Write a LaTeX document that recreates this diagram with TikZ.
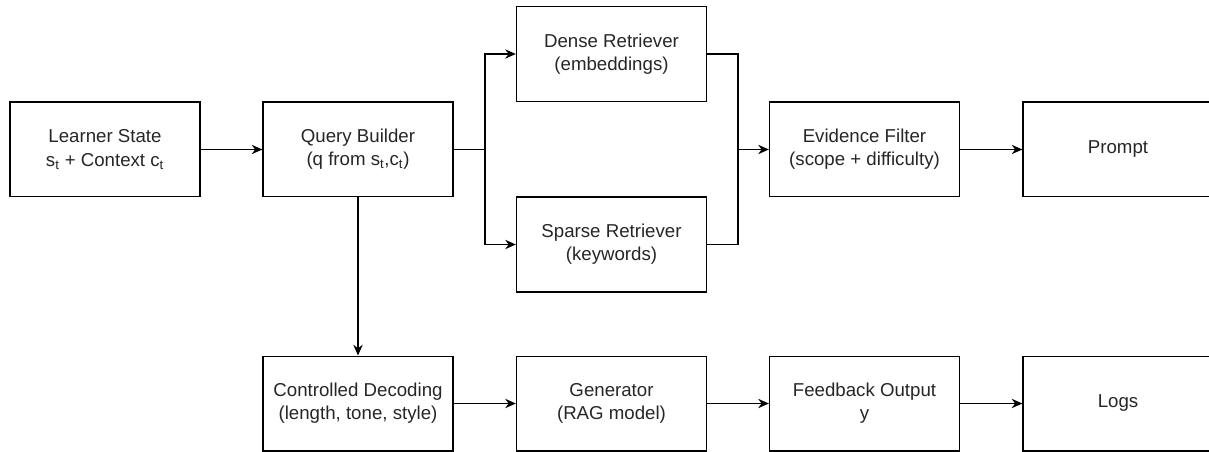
\documentclass[tikz,border=0pt]{standalone}
\usepackage{fontspec}
\setmainfont{Liberation Sans}
\usetikzlibrary{arrows.meta}

\begin{document}
\begin{tikzpicture}[x=0.75pt, y=-0.75pt,
    block/.style={draw, line width=1pt, minimum width=142.5pt, minimum height=71pt,
        inner sep=0pt, align=center, text=black!85, font=\fontsize{14}{17.5}\selectfont},
    arr/.style={line width=1pt, -{Stealth[length=8pt, width=7pt]}},
    wire/.style={line width=1pt}]
    \useasboundingbox (0,0) rectangle (1209,452);

    % Upper row
    \node[block] (learner) at (105,149.5) {Learner State\\s\textsubscript{t} + Context c\textsubscript{t}};
    \node[block] (query) at (358,149.5) {Query Builder\\(q from s\textsubscript{t},c\textsubscript{t})};
    \node[block] (dense) at (611.5,54) {Dense Retriever\\(embeddings)};
    \node[block] (sparse) at (611.5,244.5) {Sparse Retriever\\(keywords)};
    \node[block] (filter) at (864.5,149.5) {Evidence Filter\\(scope + difficulty)};
    \node[block] (prompt) at (1118,149.5) {Prompt};

    % Lower row
    \node[block] (decode) at (358,403.5) {Controlled Decoding\\(length, tone, style)};
    \node[block] (generator) at (611.5,403.5) {Generator\\(RAG model)};
    \node[block] (feedback) at (864.5,403.5) {Feedback Output\\y};
    \node[block] (logs) at (1118,403.5) {Logs};

    % Split and merge points
    \coordinate (split) at (485,149.5);
    \coordinate (merge) at (738,149.5);

    % Connectors
    \draw[arr] (learner) -- (query);
    \draw[wire] (query.east) -- (split);
    \draw[arr] (split) |- (dense.west);
    \draw[arr] (split) |- (sparse.west);
    \draw[wire] (dense.east) -| (merge);
    \draw[wire] (sparse.east) -| (merge);
    \draw[arr] (merge) -- (filter.west);
    \draw[arr] (filter) -- (prompt);
    \draw[arr] (query) -- (decode);
    \draw[arr] (decode) -- (generator);
    \draw[arr] (generator) -- (feedback);
    \draw[arr] (feedback) -- (logs);

\end{tikzpicture}
\end{document}
